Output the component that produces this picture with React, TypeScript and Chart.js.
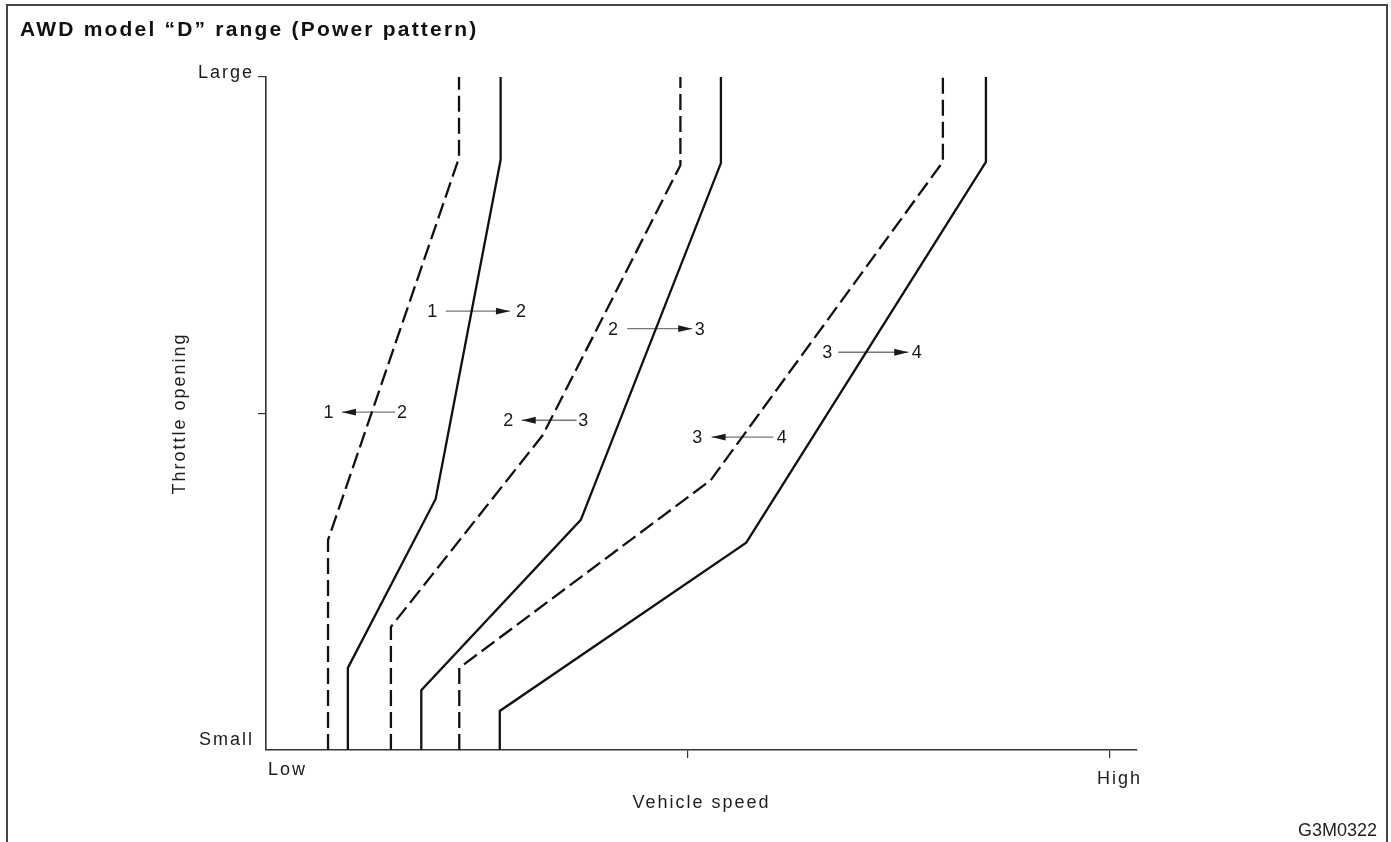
import React, { useEffect, useRef } from "react";
import { Chart, registerables } from "chart.js";

Chart.register(...registerables);

const FONT = "'Liberation Sans', Arial, Helvetica, sans-serif";

const titleText = "AWD model \u201CD\u201D range (Power pattern)";
const figureCode = "G3M0322";
const xAxisTitle = "Vehicle speed";
const yAxisTitle = "Throttle opening";
const xTickValues = [0, 50, 100];
const xTickLabels = ["Low", "", "High"];
const yTickValues = [0, 50, 100];
const yTickLabels = ["Small", "", "Large"];

// Shift lines: speed (0..100 = Low..High), throttle (0..100 = Small..Large)
const down12Speed = [7.35, 7.35, 22.87, 22.87];
const down12Throttle = [0, 31.2, 88.0, 100];
const up12Speed = [9.7, 9.7, 20.1, 27.8, 27.8];
const up12Throttle = [0, 12.2, 37.3, 87.7, 100];
const down23Speed = [14.8, 14.8, 32.8, 49.1, 49.1];
const down23Throttle = [0, 18.3, 46.8, 86.9, 100];
const up23Speed = [18.4, 18.4, 37.3, 53.9, 53.9];
const up23Throttle = [0, 8.9, 34.2, 87.2, 100];
const down34Speed = [22.9, 22.9, 52.7, 80.2, 80.2];
const down34Throttle = [0, 12.2, 40.1, 87.4, 100];
const up34Speed = [27.7, 27.7, 56.9, 85.3, 85.3];
const up34Throttle = [0, 5.8, 30.8, 87.4, 100];

// Shift annotations ("1 -> 2", "1 <- 2", ...)
const noteLeftText = ["1", "2", "3", "1", "2", "3"];
const noteRightText = ["2", "3", "4", "2", "3", "4"];
const noteThrottle = [65.2, 62.6, 59.1, 50.2, 49.0, 46.5];
const noteLeftSpeed = [19.7, 41.1, 66.5, 7.4, 28.7, 51.1];
const noteRightSpeed = [30.2, 51.4, 77.1, 16.1, 37.6, 61.1];
const arrowTailSpeed = [21.3, 42.8, 67.8, 15.3, 36.8, 60.1];
const arrowTipSpeed = [28.9, 50.5, 76.1, 9.0, 30.3, 52.8];

const toPoints = (xs: number[], ys: number[]) => xs.map((x, i) => ({ x, y: ys[i] }));

const notesPlugin = {
  id: "shiftNotes",
  beforeDraw(chart: any) {
    chart.ctx.letterSpacing = "2px";
  },
  afterDraw(chart: any) {
    const ctx = chart.ctx as CanvasRenderingContext2D;
    const xs = chart.scales.x;
    const ys = chart.scales.y;
    ctx.save();
    (ctx as any).letterSpacing = "0px";
    ctx.fillStyle = "#1a1a1a";
    ctx.textBaseline = "middle";
    ctx.textAlign = "center";
    ctx.font = `18px ${FONT}`;
    for (let i = 0; i < noteThrottle.length; i++) {
      const y = ys.getPixelForValue(noteThrottle[i]);
      ctx.fillText(noteLeftText[i], xs.getPixelForValue(noteLeftSpeed[i]), y + 1);
      ctx.fillText(noteRightText[i], xs.getPixelForValue(noteRightSpeed[i]), y + 1);
      const tip = xs.getPixelForValue(arrowTipSpeed[i]);
      const tail = xs.getPixelForValue(arrowTailSpeed[i]);
      const dir = tip > tail ? 1 : -1;
      ctx.beginPath();
      ctx.moveTo(tip, y);
      ctx.lineTo(tip - dir * 14, y - 3.4);
      ctx.lineTo(tip - dir * 14, y + 3.4);
      ctx.closePath();
      ctx.fill();
    }
    // axis end labels
    ctx.font = `18px ${FONT}`;
    (ctx as any).letterSpacing = "2px";
    const x0 = xs.getPixelForValue(0);
    const yBase = ys.getPixelForValue(0);
    for (let i = 0; i < yTickValues.length; i++) {
      if (!yTickLabels[i]) continue;
      const v = yTickValues[i];
      ctx.textAlign = "right";
      ctx.fillText(yTickLabels[i], x0 - 12, ys.getPixelForValue(v) + (v === 0 ? -10 : -4));
    }
    for (let i = 0; i < xTickValues.length; i++) {
      if (!xTickLabels[i]) continue;
      const v = xTickValues[i];
      ctx.textAlign = "left";
      const px = xs.getPixelForValue(v);
      ctx.fillText(xTickLabels[i], v === 0 ? px + 2 : px - 13, yBase + (v === 0 ? 20 : 29));
    }
    ctx.restore();
  },
};

const markColor = (c: any) => (c.tick && c.tick.value === 0 ? "rgba(0,0,0,0)" : "#333");

export default function App() {
  const canvasRef = useRef<HTMLCanvasElement | null>(null);

  useEffect(() => {
    if (!canvasRef.current) return;
    Chart.defaults.font.family = FONT;
    const solid = { borderColor: "#111", borderWidth: 2.3, pointRadius: 0, tension: 0, clip: false as any, fill: false };
    const dashed = { ...solid, borderDash: [16, 6] };
    const arrowSets = noteThrottle.map((t, i) => ({
      data: [
        { x: arrowTailSpeed[i], y: t },
        { x: arrowTipSpeed[i], y: t },
      ],
      borderColor: "#777",
      borderWidth: 1.3,
      pointRadius: 0,
      tension: 0,
      fill: false,
    }));
    const chart = new Chart(canvasRef.current, {
      type: "line",
      data: {
        datasets: [
          { label: "1\u21902", data: toPoints(down12Speed, down12Throttle), ...dashed },
          { label: "1\u21922", data: toPoints(up12Speed, up12Throttle), ...solid },
          { label: "2\u21903", data: toPoints(down23Speed, down23Throttle), ...dashed },
          { label: "2\u21923", data: toPoints(up23Speed, up23Throttle), ...solid },
          { label: "3\u21904", data: toPoints(down34Speed, down34Throttle), ...dashed },
          { label: "3\u21924", data: toPoints(up34Speed, up34Throttle), ...solid },
          ...arrowSets,
        ] as any,
      },
      options: {
        animation: false,
        responsive: false,
        maintainAspectRatio: false,
        events: [],
        layout: { padding: { left: 165.2, top: 77, right: 254, bottom: 24.2 } },
        plugins: {
          legend: { display: false },
          tooltip: { enabled: false },
          title: { display: false },
        },
        scales: {
          x: {
            type: "linear",
            min: 0,
            max: 103.2,
            afterBuildTicks: (s: any) => {
              s.ticks = xTickValues.map((v) => ({ value: v }));
            },
            ticks: { display: false },
            grid: {
              display: true,
              drawOnChartArea: false,
              drawTicks: true,
              tickLength: 8,
              lineWidth: 1.2,
              color: markColor,
              tickColor: markColor,
            },
            border: { display: true, color: "#333", width: 1.6 },
            title: {
              display: true,
              text: xAxisTitle,
              color: "#1e1e1e",
              font: { size: 18, family: FONT },
              padding: { top: 34.2, bottom: 4 },
            },
          },
          y: {
            type: "linear",
            min: 0,
            max: 100,
            afterBuildTicks: (s: any) => {
              s.ticks = yTickValues.map((v) => ({ value: v }));
            },
            ticks: { display: false },
            grid: {
              display: true,
              drawOnChartArea: false,
              drawTicks: true,
              tickLength: 8,
              lineWidth: 1.2,
              color: markColor,
              tickColor: markColor,
            },
            border: { display: true, color: "#333", width: 1.6 },
            title: {
              display: true,
              text: yAxisTitle,
              color: "#1e1e1e",
              font: { size: 18, family: FONT },
              padding: { top: 4, bottom: 67.2 },
            },
          },
        },
      },
      plugins: [notesPlugin as any],
    });
    return () => chart.destroy();
  }, []);

  return (
    <div
      style={{
        position: "fixed",
        left: 0,
        top: 0,
        width: 1391,
        height: 842,
        overflow: "hidden",
        background: "#fff",
      }}
    >
      <div
        style={{
          position: "absolute",
          left: 6,
          top: 4,
          width: 1382,
          height: 900,
          boxSizing: "border-box",
          borderTop: "2px solid #444",
          borderLeft: "2px solid #444",
          borderRight: "2px solid #444",
        }}
      />
      <canvas
        ref={canvasRef}
        width={1391}
        height={842}
        style={{ position: "absolute", left: 0, top: 0, width: 1391, height: 842, display: "block" }}
      />
      <div
        style={{
          position: "absolute",
          left: 20,
          top: 18,
          fontFamily: FONT,
          fontWeight: "bold",
          fontSize: 21,
          lineHeight: "21px",
          letterSpacing: "2.2px",
          color: "#111",
          whiteSpace: "nowrap",
        }}
      >
        {titleText}
      </div>
      <div
        style={{
          position: "absolute",
          right: 14,
          top: 821,
          fontFamily: FONT,
          fontSize: 18,
          lineHeight: "18px",
          color: "#1e1e1e",
          whiteSpace: "nowrap",
        }}
      >
        {figureCode}
      </div>
    </div>
  );
}
